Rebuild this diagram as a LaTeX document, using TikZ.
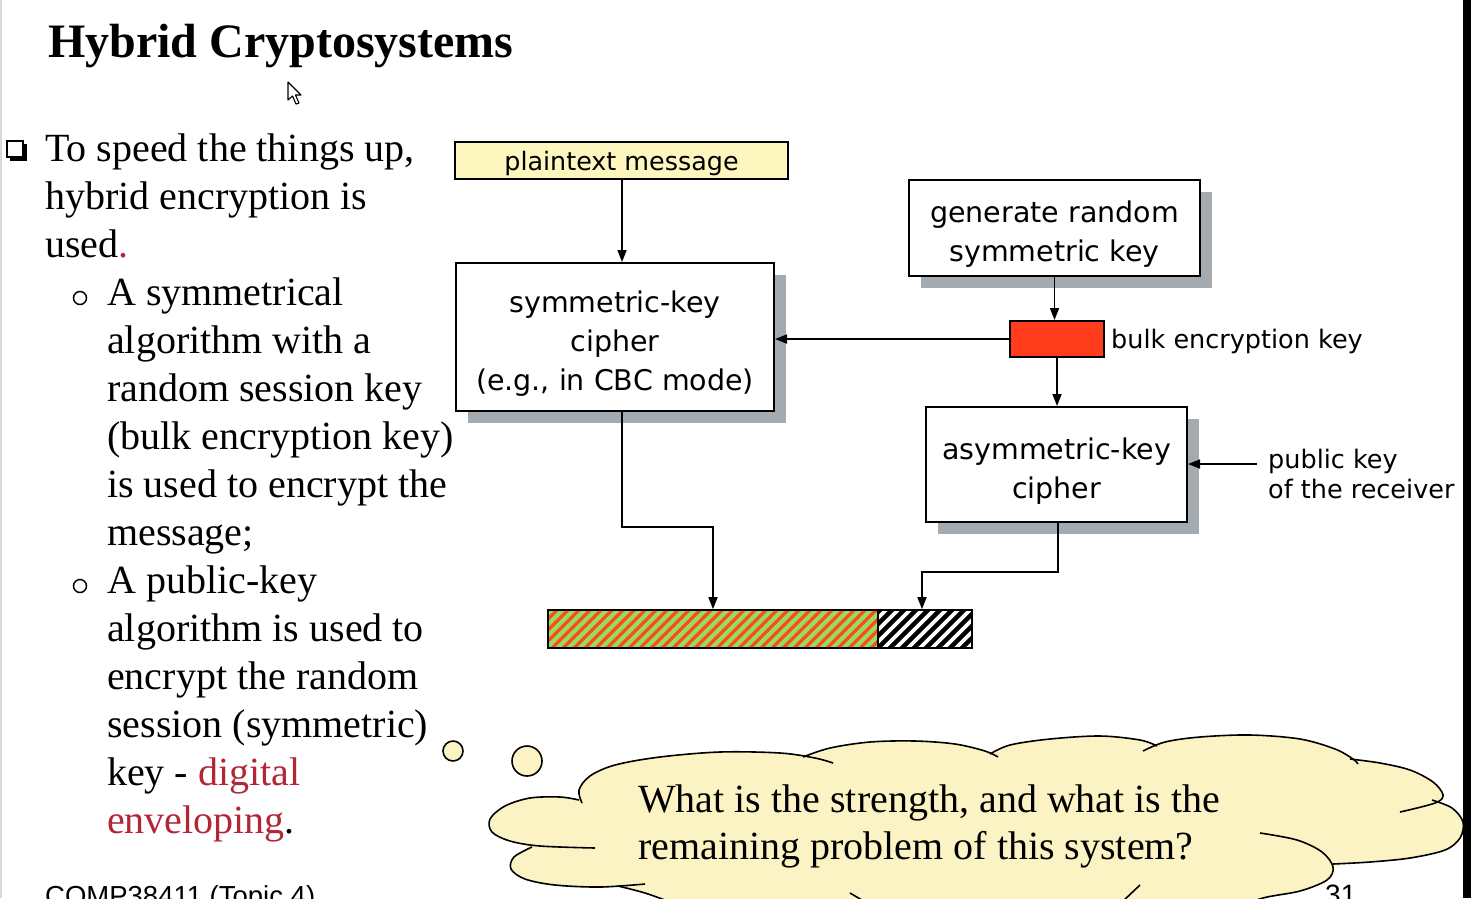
\documentclass[tikz,border=0pt]{standalone}
\usepackage{fontspec}
\setmainfont{Liberation Serif}
\newfontfamily\diagfont{DejaVu Sans}
\newfontfamily\footfont{Liberation Sans}
\usetikzlibrary{arrows.meta,shadows}

\definecolor{noteyellow}{HTML}{FDF6BF}
\definecolor{cloudyellow}{HTML}{FCF3C4}
\definecolor{shadowgrey}{HTML}{A3ABB0}
\definecolor{keyred}{HTML}{FF3C1C}
\definecolor{hatchgreen}{HTML}{94DC64}
\definecolor{hatchred}{HTML}{FF4A14}
\definecolor{linkred}{HTML}{B22636}

% lobes of the thought cloud: each stroke runs past its neighbour into the interior
\newcommand\cloudlobes[1]{%
  #1{(582,803) (579,790) (590,776) (615,765) (660,757) (720,752) (780,753) (815,758) (833,763)}%
  #1{(803,757) (830,748) (870,742) (915,741) (955,744) (985,751) (998,757)}%
  #1{(990,754) (1010,745) (1050,739) (1100,736) (1140,740) (1157,746)}%
  #1{(1143,751) (1165,742) (1200,737) (1250,735) (1300,739) (1335,749) (1353,759) (1358,764)}%
  #1{(1350,759) (1380,763) (1410,770) (1433,782) (1443,795) (1435,803) (1400,812)}%
  #1{(1432,800) (1452,808) (1463,822) (1460,838) (1445,850) (1410,858) (1370,862) (1333,864)}%
  #1{(1260,833) (1297,840) (1322,852) (1333,867) (1327,880) (1300,891) (1263,898) (1230,910)}%
  #1{(579,800) (560,797) (530,798) (505,806) (490,819) (492,832) (510,841) (540,846) (595,848)}%
  #1{(532,847) (514,857) (511,869) (525,879) (555,885) (600,887) (645,884)}%
  #1{(618,886) (645,893) (680,905) (720,915)}%
}
\newcommand\lobefill[1]{\fill[cloudyellow] plot[smooth,tension=0.55] coordinates {#1} -- cycle;}
\newcommand\lobeline[1]{\draw[line width=1.6pt] plot[smooth,tension=0.55] coordinates {#1};}
% raises the first line of a box label so the block sits a little lower
\newcommand\firstline[1]{\rule{0pt}{#1}}

\begin{document}
\begin{tikzpicture}[x=1pt,y=-1pt,
  body/.style={anchor=base west, inner sep=0pt, font=\fontsize{40}{48}\selectfont},
  plainbox/.style={draw, line width=2pt, inner sep=0pt, align=center},
  box/.style={plainbox, fill=white, font=\diagfont\fontsize{28.5}{39}\selectfont,
    drop shadow={shadow xshift=12pt, shadow yshift=-12pt, fill=shadowgrey, opacity=1}},
  lbl/.style={inner sep=0pt, font=\diagfont\fontsize{25.5}{30}\selectfont},
  arr/.style={line width=1.7pt, -{Triangle[length=12pt,width=9pt]}}]

\useasboundingbox (0,0) rectangle (1471,898);
\clip (0,0) rectangle (1471,898);
\fill[white] (0,0) rectangle (1471,898);
\draw[black!15, line width=2pt] (1,0) -- (1,898);

% title and pointer
\node[anchor=base west, inner sep=0pt, font=\bfseries\fontsize{48}{56}\selectfont] (title) at (48,57) {Hybrid Cryptosystems};
\filldraw[fill=white, draw=black, line width=1.1pt, line join=round]
  (288,82) -- (288,100) -- (292.5,96) -- (296,104) -- (299,103) -- (295.5,95) -- (301,95) -- cycle;

% bullet text
\draw[line width=1.4pt] (7,141) rectangle (23,157);
\fill (23,144) rectangle (27,161);
\fill (10,157) rectangle (27,161);
\node[body] (t1) at (45,161) {To speed the things up,};
\node[body] (t2) at (45,209) {hybrid encryption is};
\node[body] (t3) at (45,257) {used\textcolor{linkred}{.}};

\draw[line width=1.5pt] (80,298) circle (6.5);
\node[body] (s1) at (107,305) {A symmetrical};
\node[body] (s2) at (107,353) {algorithm with a};
\node[body] (s3) at (107,401) {random session key};
\node[body] (s4) at (107,449) {(bulk encryption key)};
\node[body] (s5) at (107,497) {is used to encrypt the};
\node[body] (s6) at (107,545) {message;};
\draw[line width=1.5pt] (80,586) circle (6.5);
\node[body] (s7) at (107,593) {A public-key};
\node[body] (s8) at (107,641) {algorithm is used to};
\node[body] (s9) at (107,689) {encrypt the random};
\node[body] (s10) at (107,737) {session (symmetric)};
\node[body] (s11) at (107,785) {key - \textcolor{linkred}{digital}};
\node[body] (s12) at (107,833) {\textcolor{linkred}{enveloping}.};

% footer
\node[anchor=base west, inner sep=0pt, font=\footfont\fontsize{27.5}{30}\selectfont] (foot) at (45,905) {COMP38411 (Topic 4)};
\node[anchor=base west, inner sep=0pt, font=\footfont\fontsize{28}{30}\selectfont] (page) at (1325,904) {31};

% diagram boxes
\node[plainbox, fill=noteyellow, minimum width=333pt, minimum height=37pt,
  font=\diagfont\fontsize{25.4}{30}\selectfont] (pt) at (621.5,160.5) {\firstline{25pt}plaintext message};
\node[box, minimum width=318pt, minimum height=148pt] (sym) at (615,337) {\firstline{34pt}symmetric-key\\cipher\\(e.g., in CBC mode)};
\node[box, minimum width=291pt, minimum height=96pt] (gen) at (1054.5,228) {\firstline{34pt}generate random\\symmetric key};
\node[plainbox, fill=keyred, minimum width=94pt, minimum height=36pt] (key) at (1057,339) {};
\node[box, minimum width=261pt, minimum height=115pt] (asym) at (1056.5,464.5) {\firstline{34pt}asymmetric-key\\cipher};
\node[lbl, anchor=west] (bulk) at (1111,341) {bulk encryption key};
\node[lbl, anchor=base west] (pk1) at (1268,468) {public key};
\node[lbl, anchor=base west] (pk2) at (1268,498) {of the receiver};

% output record: encrypted message followed by the enveloped key
\begin{scope}
  \clip (548,610) rectangle (878,648);
  \fill[hatchgreen] (548,610) rectangle (878,648);
  \foreach \i in {0,...,36}
    \draw[hatchred, line width=3.2pt] ({506+11*\i},650) -- ++(42,-42);
\end{scope}
\begin{scope}
  \clip (878,610) rectangle (972,648);
  \fill[black] (878,610) rectangle (972,648);
  \foreach \i in {0,...,12}
    \draw[white, line width=3.8pt] ({834+12*\i},650) -- ++(42,-42);
\end{scope}
\node[draw, line width=1.6pt, minimum width=330pt, minimum height=38pt, inner sep=0pt] (bar1) at (713,629) {};
\node[draw, line width=1.6pt, minimum width=94pt, minimum height=38pt, inner sep=0pt] (bar2) at (925,629) {};

% connectors
\coordinate (j1) at (622,527);
\coordinate (j2) at (713,527);
\coordinate (j3) at (1058,572);
\coordinate (j4) at (922,572);
\coordinate (pksrc) at (1257,464);
\draw[arr] (pt.south -| j1) -- (sym.north -| j1);
\draw[arr] (gen.south) -- (gen.south |- key.north);
\draw[arr] (key.west) -- (key.west -| sym.east);
\draw[arr] (key.south) -- (key.south |- asym.north);
\draw[arr] (pksrc) -- (pksrc -| asym.east);
\draw[arr] (sym.south -| j1) -- (j1) -- (j2) -- (j2 |- bar1.north);
\draw[arr] (asym.south -| j3) -- (j3) -- (j4) -- (j4 |- bar2.north);

% thought cloud
\filldraw[fill=cloudyellow, line width=1.6pt] (453,751) circle (10);
\filldraw[fill=cloudyellow, line width=1.6pt] (527,761) circle (15);
\cloudlobes\lobefill
\fill[cloudyellow] (578,801) -- (585,790) -- (600,782) -- (660,765) -- (780,762) -- (840,755) -- (915,749)
  -- (980,757) -- (1010,752) -- (1100,744) -- (1140,748) -- (1170,750) -- (1250,743)
  -- (1335,757) -- (1380,771) -- (1425,787) -- (1432,798) -- (1448,815) -- (1452,835)
  -- (1410,852) -- (1325,868) -- (1300,884) -- (1263,900) -- (1250,910) -- (720,913)
  -- (680,904) -- (646,892) -- (620,886) -- (600,885) -- (555,883) -- (527,876)
  -- (516,864) -- (528,849) -- (520,830) -- cycle;
\cloudlobes\lobeline
\draw[line width=1.6pt] (850,893) -- (872,906);
\draw[line width=1.6pt] (1140,885) -- (1122,902);
\node[body] (q1) at (638,812) {What is the strength, and what is the};
\node[body] (q2) at (638,859) {remaining problem of this system?};

% right edge
\fill[black] (1463,0) rectangle (1471,898);
\end{tikzpicture}
\end{document}
